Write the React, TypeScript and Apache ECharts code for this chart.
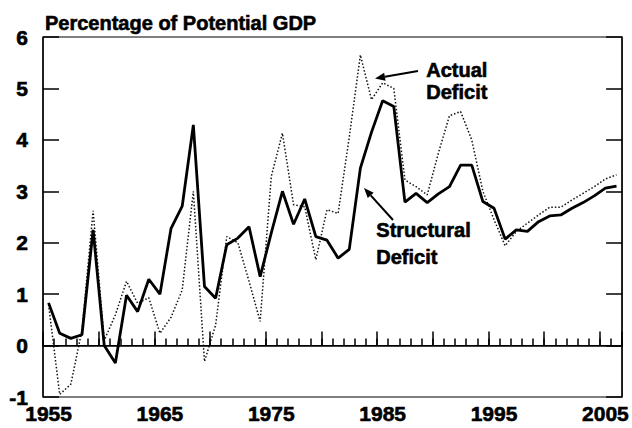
import React, { useEffect, useRef } from "react";
import * as echarts from "echarts";

const years: string[] = [
  "1955", "1956", "1957", "1958", "1959", "1960", "1961", "1962", "1963", "1964",
  "1965", "1966", "1967", "1968", "1969", "1970", "1971", "1972", "1973", "1974",
  "1975", "1976", "1977", "1978", "1979", "1980", "1981", "1982", "1983", "1984",
  "1985", "1986", "1987", "1988", "1989", "1990", "1991", "1992", "1993", "1994",
  "1995", "1996", "1997", "1998", "1999", "2000", "2001", "2002", "2003", "2004",
  "2005", "2006",
];

const structuralDeficit: number[] = [
  0.83, 0.24, 0.14, 0.21, 2.25, 0.0, -0.34, 0.98, 0.66, 1.29,
  1.0, 2.28, 2.71, 4.29, 1.15, 0.92, 1.96, 2.09, 2.31, 1.34,
  2.19, 3.0, 2.36, 2.85, 2.12, 2.05, 1.7, 1.87, 3.45, 4.15,
  4.76, 4.65, 2.79, 2.96, 2.78, 2.95, 3.09, 3.51, 3.51, 2.8,
  2.67, 2.07, 2.25, 2.22, 2.41, 2.52, 2.54, 2.67, 2.78, 2.91,
  3.06, 3.1,
];

const actualDeficit: number[] = [
  0.8, -0.95, -0.75, 0.3, 2.62, 0.1, 0.6, 1.25, 0.82, 0.93,
  0.24, 0.55, 1.08, 3.0, -0.31, 0.4, 2.12, 2.0, 1.25, 0.47,
  3.29, 4.13, 2.74, 2.7, 1.67, 2.64, 2.57, 4.05, 5.65, 4.78,
  5.11, 5.0, 3.22, 3.09, 2.93, 3.74, 4.47, 4.55, 4.0, 3.0,
  2.45, 1.94, 2.22, 2.38, 2.54, 2.69, 2.69, 2.83, 2.96, 3.09,
  3.24, 3.32,
];

const yMin = -1;
const yMax = 6;
const titleText = "Percentage of Potential GDP";
const actualLabel = ["Actual", "Deficit"];
const structuralLabel = ["Structural", "Deficit"];

const FONT = "'Liberation Sans', Arial, Helvetica, sans-serif";

function arrow(tail: [number, number], tip: [number, number]) {
  const dx = tip[0] - tail[0];
  const dy = tip[1] - tail[1];
  const len = Math.sqrt(dx * dx + dy * dy);
  const ux = dx / len;
  const uy = dy / len;
  const headLen = 10;
  const halfW = 4;
  const bx = tip[0] - ux * headLen;
  const by = tip[1] - uy * headLen;
  const px = -uy * halfW;
  const py = ux * halfW;
  return [
    {
      type: "line",
      shape: { x1: tail[0], y1: tail[1], x2: bx, y2: by },
      style: { stroke: "#000", lineWidth: 2 },
    },
    {
      type: "polygon",
      shape: {
        points: [
          [tip[0], tip[1]],
          [bx + px, by + py],
          [bx - px, by - py],
        ],
      },
      style: { fill: "#000" },
    },
  ];
}

export default function App() {
  const ref = useRef<HTMLDivElement>(null);

  useEffect(() => {
    if (!ref.current) return;
    const chart = echarts.init(ref.current, undefined, { renderer: "svg" });

    const labelStyle = {
      fontFamily: FONT,
      fontWeight: "bold" as const,
      fontSize: 21,
      color: "#000",
      textBorderColor: "#000",
      textBorderWidth: 0.6,
    };

    const annotStyle = (text: string) => ({
      text,
      font: `bold 20px ${FONT}`,
      fill: "#000",
      stroke: "#000",
      lineWidth: 0.6,
    });

    const option: any = {
      animation: false,
      backgroundColor: "#fff",
      title: {
        text: titleText,
        left: 40,
        top: 8,
        textStyle: {
          fontFamily: FONT,
          fontWeight: "bold",
          fontSize: 20,
          color: "#000",
          textBorderColor: "#000",
          textBorderWidth: 0.6,
        },
      },
      grid: {
        left: 43,
        right: 5,
        top: 37,
        bottom: 31,
        show: true,
        borderColor: "#000",
        borderWidth: 1,
        backgroundColor: "transparent",
      },
      xAxis: [
        {
          type: "category",
          data: years,
          boundaryGap: true,
          position: "bottom",
          axisLine: { show: true, lineStyle: { color: "#000", width: 1.5 } },
          axisTick: {
            show: true,
            inside: true,
            interval: 0,
            length: 7,
            lineStyle: { color: "#000", width: 1.5 },
          },
          axisLabel: { ...labelStyle, interval: 9, margin: 6 },
          splitLine: { show: false },
        },
        {
          type: "category",
          data: years,
          boundaryGap: true,
          position: "bottom",
          axisLine: { show: false },
          axisTick: {
            show: true,
            inside: true,
            interval: 4,
            length: 14,
            lineStyle: { color: "#000", width: 1.5 },
          },
          axisLabel: { show: false },
          splitLine: { show: false },
        },
      ],
      yAxis: [
        {
          type: "value",
          position: "left",
          min: yMin,
          max: yMax,
          interval: 1,
          axisLine: { show: true, lineStyle: { color: "#000", width: 1.5 } },
          axisTick: {
            show: true,
            inside: true,
            length: 16,
            lineStyle: { color: "#000", width: 1.5 },
          },
          axisLabel: { ...labelStyle, margin: 15 },
          splitLine: { show: false },
        },
        {
          type: "value",
          position: "right",
          min: yMin,
          max: yMax,
          interval: 1,
          axisLine: { show: true, lineStyle: { color: "#000", width: 1.5 } },
          axisTick: {
            show: true,
            inside: true,
            length: 16,
            lineStyle: { color: "#000", width: 1.5 },
          },
          axisLabel: { show: false },
          splitLine: { show: false },
        },
      ],
      series: [
        {
          name: "Actual Deficit",
          type: "line",
          data: actualDeficit,
          xAxisIndex: 0,
          yAxisIndex: 0,
          symbol: "none",
          lineStyle: { color: "#111", width: 1.5, type: [1.5, 2] },
          z: 2,
        },
        {
          name: "Structural Deficit",
          type: "line",
          data: structuralDeficit,
          xAxisIndex: 0,
          yAxisIndex: 0,
          symbol: "none",
          lineStyle: { color: "#000", width: 2.8, type: "solid" },
          z: 3,
          markLine: {
            silent: true,
            symbol: ["none", "none"],
            label: { show: false },
            lineStyle: { color: "#000", width: 1, type: "solid" },
            data: [{ yAxis: 0 }],
          },
        },
      ],
      graphic: [
        { type: "text", left: 426, top: 60, style: annotStyle(actualLabel[0]) },
        { type: "text", left: 426, top: 82, style: annotStyle(actualLabel[1]) },
        { type: "text", left: 376, top: 220, style: annotStyle(structuralLabel[0]) },
        { type: "text", left: 376, top: 247, style: annotStyle(structuralLabel[1]) },
        ...arrow([418, 71], [375, 78.5]),
        ...arrow([393, 220], [364, 188]),
      ],
    };

    chart.setOption(option);
    return () => {
      chart.dispose();
    };
  }, []);

  return (
    <div
      ref={ref}
      style={{ position: "absolute", left: 0, top: 0, width: 632, height: 428 }}
    />
  );
}
